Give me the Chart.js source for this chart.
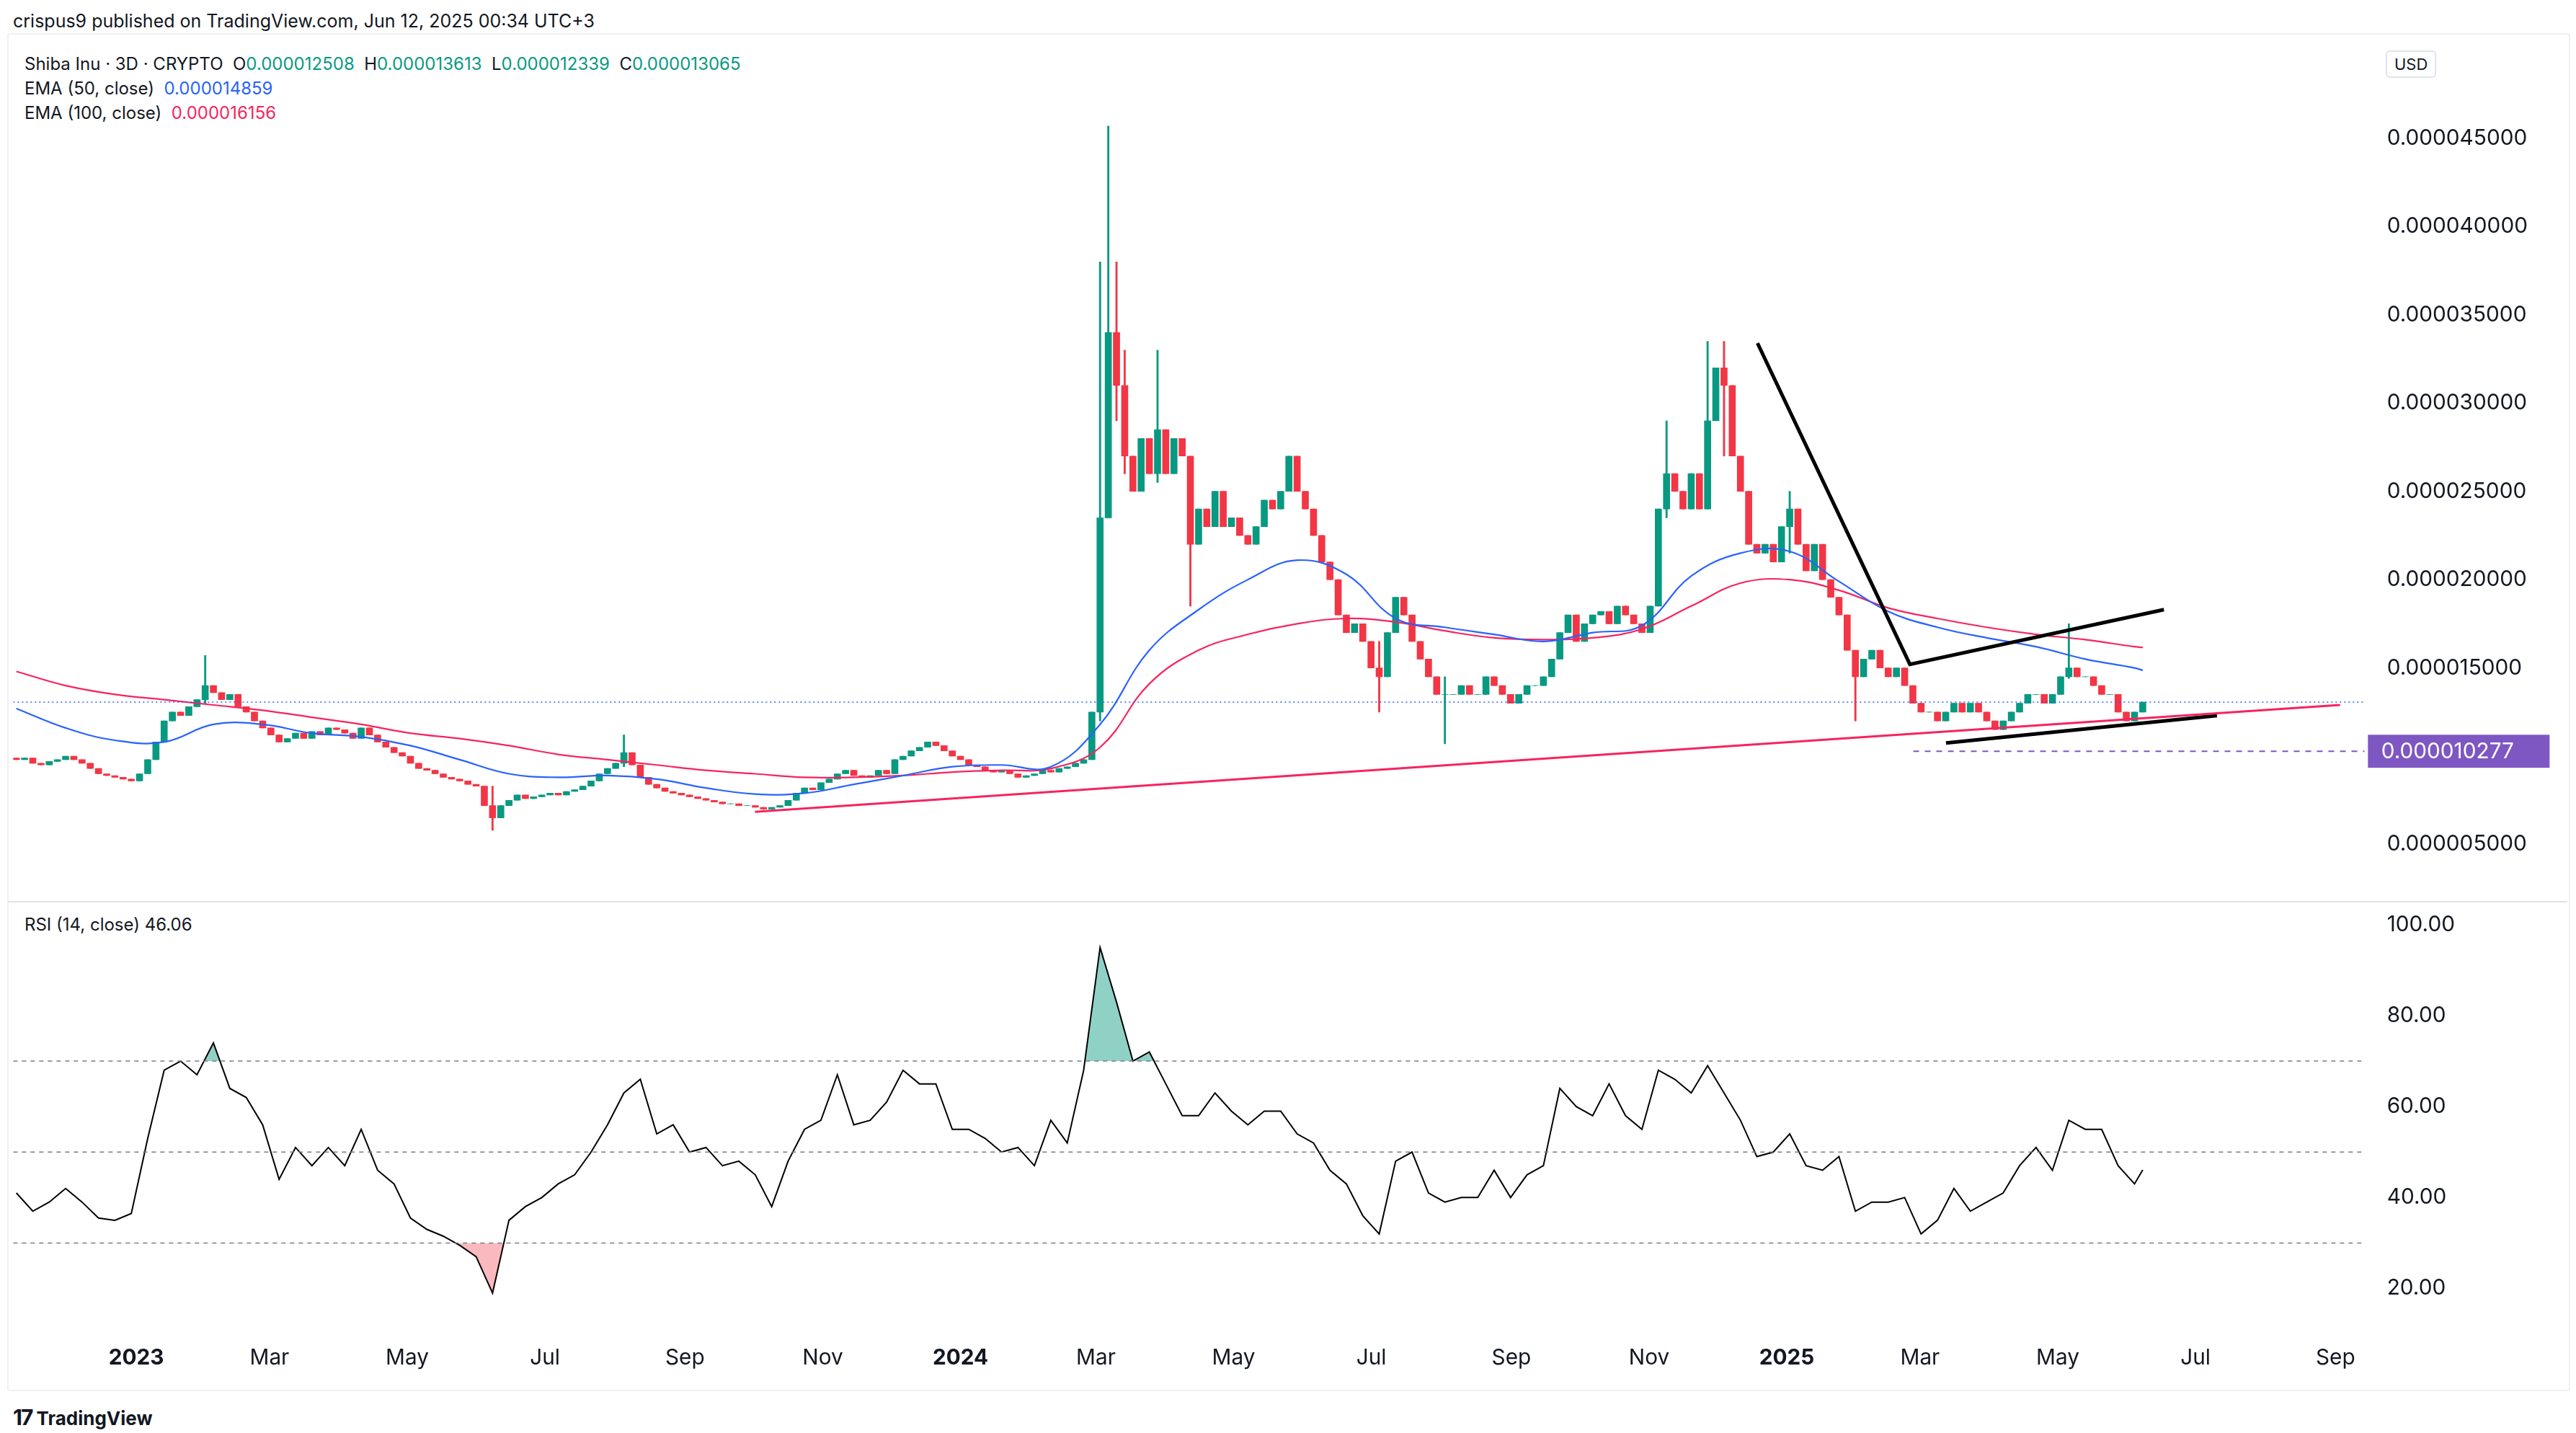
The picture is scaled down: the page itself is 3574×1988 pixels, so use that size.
<!DOCTYPE html>
<html><head><meta charset="utf-8">
<script src="https://cdn.jsdelivr.net/npm/chart.js@4/dist/chart.umd.min.js"></script>
<style>
html,body{margin:0;padding:0;background:#fff;width:3574px;height:1988px;overflow:hidden;font-family:Inter,"Noto Sans",sans-serif;color:#131722}
.abs{position:absolute;white-space:nowrap}
canvas{position:absolute}
</style></head><body>
<div class="abs" style="left:18px;top:14px;font-size:25px;">crispus9 published on TradingView.com, Jun 12, 2025 00:34 UTC+3</div>
<div class="abs" style="left:10px;top:46px;width:3552px;height:1880px;border:2px solid #eef0f3;border-radius:4px"></div>
<div class="abs" style="left:34px;top:72px;font-size:24px;line-height:34px" id="leg"></div>
<div class="abs" style="left:3310px;top:70px;font-size:22px;padding:4px 10px;border:2px solid #e0e3eb;border-radius:6px">USD</div>
<div class="abs" style="left:10px;top:1250px;width:3552px;height:2px;background:#e0e3eb"></div>
<div class="abs" style="left:34px;top:1268px;font-size:24px">RSI (14, close) <span style="color:#131722">46.06</span></div>
<div class="abs" style="left:18px;top:1948px;font-size:26px;font-weight:700"><span style="font-size:30px;letter-spacing:-2px">17</span> TradingView</div>
<canvas id="pc"></canvas>
<canvas id="rc"></canvas>
<script>
// ---- data (price values in units of 1e-6) ----
const closes = [
9.8,9.9,9.6,9.5,9.7,9.8,10.0,9.8,9.6,9.3,9.0,8.9,8.8,8.7,8.6,
9.0,9.8,10.8,12.0,12.5,12.3,12.8,13.2,14.0,13.6,
13.2,13.5,12.8,12.5,12.0,11.6,11.2,10.8,11.0,11.3,11.0,11.4,11.2,11.6,
11.5,11.3,11.0,11.6,11.2,10.8,10.5,10.2,10.0,9.6,9.3,9.2,
9.0,8.8,8.7,8.6,8.4,8.3,7.2,6.5,
7.2,7.5,7.8,7.6,7.7,7.8,7.9,7.8,8.0,8.1,8.3,8.6,
9.0,9.3,9.6,10.2,9.5,8.8,8.4,8.2,
8.0,7.9,7.8,7.7,7.6,7.5,7.4,7.3,7.3,7.2,7.2,7.1,
7.0,7.1,7.2,7.5,7.9,8.2,8.1,8.5,8.7,9.0,9.2,8.9,
8.8,8.9,9.2,9.0,9.8,10.0,10.3,10.5,10.8,10.6,10.3,10.0,
9.8,9.5,9.4,9.2,9.1,9.2,9.0,8.8,8.9,9.0,9.2,9.1,9.3,9.4,9.6,9.8,
12.5,23.5,34,31,27,25,28,26,28.5,26,28,27,22,24,23,25,23,23.5,22.5,22,23,24.5,24,25,27,25,24,22.5,21,20,18,17,17.5,16.5,15,14.5,17,19,18,16.5,15.5,14.5,13.5,13.5,13.5,14,13.5,13.5,14.5,14,13.5,13,13.5,14,14,14.5,15.5,17,18,16.5,17.5,18,18.2,17.5,18.5,18,17.5,17,18.5,
24,26,25,24,26,24,29,32,31,27,25,22,21.5,22,21,23,24,22,20.5,22,20,19,18,16,14.5,15.5,16,15,14.5,15,14,13,12.5,12.5,12,12.5,13,12.5,13,12.5,12,11.5,12,12.5,13,13.5,13.5,13,13.5,14.5,15,14.5,14.5,14,13.5,13.5,12.5,12,12.5,13.065];
const firstOpen = 9.9;
// notable wicks: candle index -> [low, high]
const wicks = {23:[13.0,15.7],58:[5.8,8.3],74:[9.4,11.2],132:[12.0,38.0],133:[23.5,45.7],134:[29,38],135:[26,33],139:[25.5,33],143:[18.5,27],166:[12.5,16.5],174:[10.7,14.5],201:[23.5,29],206:[24,33.5],208:[27,33.5],216:[21.5,25],224:[12,16],250:[14.4,17.5]};
const FIRST_DAY = -53.1, STEP_DAYS = 3.636; // days since 2023-01-01
const ema50 = [12.7,11.6,10.9,10.8,11.8,11.8,11.3,11.1,10.6,9.8,9.0,8.8,8.9,8.7,8.2,7.85,7.9,8.4,8.9,9.4,9.5,9.4,11.8,16,18.3,20,21.1,20.3,17.8,17.3,16.9,16.5,17,17.4,20.2,21.5,21.6,19.9,18.2,17.3,16.7,16.2,15.5,15.0,14.86];
const ema100 = [14.8,14.0,13.5,13.2,12.9,12.6,12.2,11.8,11.3,11.0,10.6,10.1,9.8,9.5,9.2,9.0,8.8,8.8,8.9,9.1,9.2,9.3,10.5,14.1,16,16.9,17.5,17.8,17.6,17.1,16.7,16.6,16.7,17.2,18.5,19.8,20.0,19.4,18.4,17.8,17.3,16.9,16.6,16.2,16.16];
const rsi = [41,37,39,42,39,35.5,35,36.5,53,68,70,67,74,64,62,56,44,51,47,51,47,55,46,43,35.5,33,31.5,29.5,27,19,35,38,40,43,45,50,56,63,66,54,56,50,51,47,48,45,38,48,55,57,67,56,57,61,68,65,65,55,55,53,50,51,47,57,52,68,95,83,70,72,65,58,58,63,59,56,59,59,54,52,46,43,36,32,48,50,41,39,40,40,46,40,45,47,64,60,58,65,58,55,68,66,63,69,63,57,49,50,54,47,46,49,37,39,39,40,32,35,42,37,39,41,47,51,46,57,55,55,47,43,46.06];
const trendRed = [[274,6.85],[976,12.9]];
const trendBlackA = [[718,33.4],[785.5,15.2],[898,18.3]];
const trendBlackB = [[801.5,10.75],[921.5,12.3]];
const supportLevel = 10.277, lastClose = 13.065;
const monthTicks = [[0,'2023'],[59,'Mar'],[120,'May'],[181,'Jul'],[243,'Sep'],[304,'Nov'],[365,'2024'],[425,'Mar'],[486,'May'],[547,'Jul'],[609,'Sep'],[670,'Nov'],[731,'2025'],[790,'Mar'],[851,'May'],[912,'Jul'],[974,'Sep']];
const priceTicks = [5,10,15,20,25,30,35,40,45];
const rsiTicks = [20,40,60,80,100];

// ---- layout ----
const S = 3574/1560;
const XMIN = -54.5, XMAX = 986.9;
const UP='#089981', DN='#F23645', F='Inter, "Noto Sans", sans-serif';
document.getElementById('leg').innerHTML =
 'Shiba Inu · 3D · CRYPTO&nbsp; O<span style="color:'+UP+'">0.000012508</span>&nbsp; H<span style="color:'+UP+'">0.000013613</span>&nbsp; L<span style="color:'+UP+'">0.000012339</span>&nbsp; C<span style="color:'+UP+'">0.000013065</span><br>EMA (50, close)&nbsp; <span style="color:#2962FF">0.000014859</span><br>EMA (100, close)&nbsp; <span style="color:#F7245E">0.000016156</span>';

const days = closes.map((c,i)=>FIRST_DAY+STEP_DAYS*i);
const bodies=[], wickData=[], colors=[];
closes.forEach((c,i)=>{
  const o = i===0?firstOpen:closes[i-1];
  bodies.push({x:days[i],y:[o,c]});
  const w = wicks[i]||[Math.min(o,c),Math.max(o,c)];
  wickData.push({x:days[i],y:w});
  colors.push(c>=o?UP:DN);
});
const emaPts = arr => arr.map((v,k)=>({x:days[Math.min(6*k,closes.length-1)],y:v}));
const rsiPts = rsi.map((v,k)=>({x:days[Math.min(2*k,closes.length-1)],y:v}));
const pts = a=>a.map(p=>({x:p[0],y:p[1]}));
const xScale = (show)=>({type:'linear',min:XMIN,max:XMAX,display:show,offset:false,
  grid:{display:false,offset:false},border:{display:false},
  afterBuildTicks:s=>{s.ticks=monthTicks.map(t=>({value:t[0]}));},
  afterFit:s=>{if(show) s.height=30*S;},
  ticks:{autoSkip:false,maxRotation:0,color:'#131722',padding:6*S,
    font:c=>({family:F,size:13*S,weight:/^\d/.test(monthTicks[c.index]?monthTicks[c.index][1]:'')?'bold':'normal'}),
    callback:(v,i)=>monthTicks[i]?monthTicks[i][1]:''}});
function sizeCanvas(c,top,h){
  const W=Math.round(1560*S), H=Math.round(h);
  c.width=W; c.height=H; c.style.left='0px'; c.style.top=Math.round(top)+'px';
  c.style.width=W+'px'; c.style.height=H+'px';
}

// price chart
const pc=document.getElementById('pc');
sizeCanvas(pc,22*S,(545-22)*S);
const labelPlugin={id:'lbl',afterDraw(ch){
  const y=ch.scales.y, ctx=ch.ctx, py=y.getPixelForValue(supportLevel);
  ctx.save(); ctx.fillStyle='#7E57C2';
  const x0=ch.chartArea.right+2*S, w=110*S, h=20*S;
  ctx.fillRect(x0,py-h/2,w,h);
  ctx.fillStyle='#fff'; ctx.font=(13*S)+'px '+F; ctx.textBaseline='middle';
  ctx.fillText('0.000010277',x0+8*S,py+1); ctx.restore();
}};
new Chart(pc,{type:'bar',data:{datasets:[
 {type:'line',data:[{x:XMIN,y:lastClose},{x:XMAX,y:lastClose}],borderColor:'#2962FF',borderWidth:1.5,borderDash:[2,4],pointRadius:0,order:0},
 {type:'line',data:[{x:787,y:supportLevel},{x:XMAX,y:supportLevel}],borderColor:'#7E57C2',borderWidth:2,borderDash:[8,8],pointRadius:0,order:0},
 {data:wickData,backgroundColor:colors,barThickness:2.2,grouped:false,order:3},
 {data:bodies,backgroundColor:colors,barThickness:9,grouped:false,order:2},
 {type:'line',data:emaPts(ema50),borderColor:'#2962FF',borderWidth:2.2,pointRadius:0,tension:0.4,order:1},
 {type:'line',data:emaPts(ema100),borderColor:'#F7245E',borderWidth:2.2,pointRadius:0,tension:0.4,order:1},
 {type:'line',data:pts(trendRed),borderColor:'#F7245E',borderWidth:3,pointRadius:0,order:0},
 {type:'line',data:pts(trendBlackA),borderColor:'#000',borderWidth:5,pointRadius:0,order:0},
 {type:'line',data:pts(trendBlackB),borderColor:'#000',borderWidth:5,pointRadius:0,order:0}
]},options:{responsive:false,maintainAspectRatio:false,devicePixelRatio:1,animation:false,layout:{padding:{left:8*S,top:0,bottom:0,right:0}},
 plugins:{legend:{display:false},tooltip:{enabled:false}},
 scales:{x:xScale(false),
  y:{position:'right',min:3.54,max:49.13,grid:{display:false},border:{display:false},
   afterBuildTicks:s=>{s.ticks=priceTicks.map(v=>({value:v}));},
   afterFit:s=>{s.width=128*S;},
   ticks:{color:'#131722',padding:10*S,font:{family:F,size:13*S},callback:v=>v===10?'':(v*1e-6).toFixed(9)}}}},
 plugins:[labelPlugin]});

// RSI chart
const rc=document.getElementById('rc');
sizeCanvas(rc,532.3*S,(834.8-532.3)*S);
const hl=(v)=>({type:'line',data:[{x:XMIN,y:v},{x:XMAX,y:v}],borderColor:'#787B86',borderWidth:1.5,borderDash:[6,6],pointRadius:0});
new Chart(rc,{type:'line',data:{datasets:[
 hl(70),hl(50),hl(30),
 {data:rsiPts,borderColor:'#000',borderWidth:2,pointRadius:0,tension:0,fill:{target:{value:70},above:'rgba(8,153,129,0.45)',below:'rgba(0,0,0,0)'}},
 {data:rsiPts,borderWidth:0,pointRadius:0,tension:0,fill:{target:{value:30},above:'rgba(0,0,0,0)',below:'rgba(242,54,69,0.35)'}}
]},options:{responsive:false,maintainAspectRatio:false,devicePixelRatio:1,animation:false,layout:{padding:{left:8*S,top:0,bottom:0,right:0}},
 plugins:{legend:{display:false},tooltip:{enabled:false}},
 scales:{x:xScale(true),
  y:{position:'right',min:11.0,max:103.5,grid:{display:false},border:{display:false},
   afterBuildTicks:s=>{s.ticks=rsiTicks.map(v=>({value:v}));},
   afterFit:s=>{s.width=128*S;},
   ticks:{color:'#131722',padding:10*S,font:{family:F,size:13*S},callback:v=>v.toFixed(2)}}}}});
</script>
</body></html>
